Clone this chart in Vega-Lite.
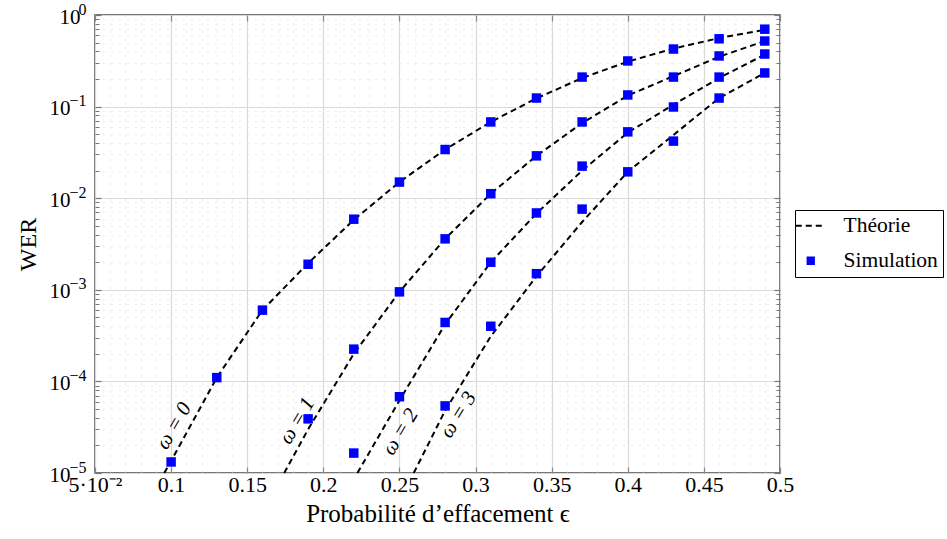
{
  "$schema": "https://vega.github.io/schema/vega-lite/v6.json",
  "autosize": "none",
  "width": 685,
  "height": 458,
  "padding": {"left": 95, "top": 15, "right": 167, "bottom": 66},
  "background": "white",
  "config": {
    "view": {"stroke": "#4a4a4a", "strokeWidth": 1.5},
    "font": "Liberation Serif",
    "legend": {
      "labelFont": "Liberation Serif",
      "labelFontSize": 21.5,
      "labelColor": "#000000",
      "strokeColor": "#000000",
      "fillColor": "white",
      "padding": 5,
      "symbolSize": 900,
      "rowPadding": 12,
      "labelOffset": 22,
      "symbolStrokeWidth": 2
    }
  },
  "datasets": {
    "theory": [
      {"omega": 0, "eps": 0.0955, "wer": 0.00001, "kind": "Théorie"},
      {"omega": 0, "eps": 0.10, "wer": 0.0000135, "kind": "Théorie"},
      {"omega": 0, "eps": 0.13, "wer": 0.00011, "kind": "Théorie"},
      {"omega": 0, "eps": 0.16, "wer": 0.0006, "kind": "Théorie"},
      {"omega": 0, "eps": 0.19, "wer": 0.00195, "kind": "Théorie"},
      {"omega": 0, "eps": 0.22, "wer": 0.0058, "kind": "Théorie"},
      {"omega": 0, "eps": 0.25, "wer": 0.015, "kind": "Théorie"},
      {"omega": 0, "eps": 0.28, "wer": 0.034, "kind": "Théorie"},
      {"omega": 0, "eps": 0.31, "wer": 0.068, "kind": "Théorie"},
      {"omega": 0, "eps": 0.34, "wer": 0.123, "kind": "Théorie"},
      {"omega": 0, "eps": 0.37, "wer": 0.205, "kind": "Théorie"},
      {"omega": 0, "eps": 0.40, "wer": 0.31, "kind": "Théorie"},
      {"omega": 0, "eps": 0.43, "wer": 0.43, "kind": "Théorie"},
      {"omega": 0, "eps": 0.46, "wer": 0.56, "kind": "Théorie"},
      {"omega": 0, "eps": 0.49, "wer": 0.69, "kind": "Théorie"},
      {"omega": 1, "eps": 0.1743, "wer": 0.00001, "kind": "Théorie"},
      {"omega": 1, "eps": 0.19, "wer": 0.00003, "kind": "Théorie"},
      {"omega": 1, "eps": 0.22, "wer": 0.0002, "kind": "Théorie"},
      {"omega": 1, "eps": 0.25, "wer": 0.00095, "kind": "Théorie"},
      {"omega": 1, "eps": 0.28, "wer": 0.0036, "kind": "Théorie"},
      {"omega": 1, "eps": 0.31, "wer": 0.0112, "kind": "Théorie"},
      {"omega": 1, "eps": 0.34, "wer": 0.029, "kind": "Théorie"},
      {"omega": 1, "eps": 0.37, "wer": 0.066, "kind": "Théorie"},
      {"omega": 1, "eps": 0.40, "wer": 0.132, "kind": "Théorie"},
      {"omega": 1, "eps": 0.43, "wer": 0.215, "kind": "Théorie"},
      {"omega": 1, "eps": 0.46, "wer": 0.35, "kind": "Théorie"},
      {"omega": 1, "eps": 0.49, "wer": 0.52, "kind": "Théorie"},
      {"omega": 2, "eps": 0.2224, "wer": 0.00001, "kind": "Théorie"},
      {"omega": 2, "eps": 0.25, "wer": 0.000062, "kind": "Théorie"},
      {"omega": 2, "eps": 0.28, "wer": 0.00042, "kind": "Théorie"},
      {"omega": 2, "eps": 0.31, "wer": 0.002, "kind": "Théorie"},
      {"omega": 2, "eps": 0.34, "wer": 0.0068, "kind": "Théorie"},
      {"omega": 2, "eps": 0.37, "wer": 0.02, "kind": "Théorie"},
      {"omega": 2, "eps": 0.40, "wer": 0.052, "kind": "Théorie"},
      {"omega": 2, "eps": 0.43, "wer": 0.105, "kind": "Théorie"},
      {"omega": 2, "eps": 0.46, "wer": 0.205, "kind": "Théorie"},
      {"omega": 2, "eps": 0.49, "wer": 0.37, "kind": "Théorie"},
      {"omega": 3, "eps": 0.2594, "wer": 0.00001, "kind": "Théorie"},
      {"omega": 3, "eps": 0.28, "wer": 0.000048, "kind": "Théorie"},
      {"omega": 3, "eps": 0.31, "wer": 0.00031, "kind": "Théorie"},
      {"omega": 3, "eps": 0.34, "wer": 0.0014, "kind": "Théorie"},
      {"omega": 3, "eps": 0.37, "wer": 0.0055, "kind": "Théorie"},
      {"omega": 3, "eps": 0.40, "wer": 0.0194, "kind": "Théorie"},
      {"omega": 3, "eps": 0.43, "wer": 0.049, "kind": "Théorie"},
      {"omega": 3, "eps": 0.46, "wer": 0.124, "kind": "Théorie"},
      {"omega": 3, "eps": 0.49, "wer": 0.233, "kind": "Théorie"}
    ],
    "sim": [
      {"omega": 0, "eps": 0.10, "wer": 0.0000132, "kind": "Simulation"},
      {"omega": 0, "eps": 0.13, "wer": 0.00011, "kind": "Simulation"},
      {"omega": 0, "eps": 0.16, "wer": 0.0006, "kind": "Simulation"},
      {"omega": 0, "eps": 0.19, "wer": 0.0019, "kind": "Simulation"},
      {"omega": 0, "eps": 0.22, "wer": 0.0059, "kind": "Simulation"},
      {"omega": 0, "eps": 0.25, "wer": 0.015, "kind": "Simulation"},
      {"omega": 0, "eps": 0.28, "wer": 0.034, "kind": "Simulation"},
      {"omega": 0, "eps": 0.31, "wer": 0.068, "kind": "Simulation"},
      {"omega": 0, "eps": 0.34, "wer": 0.124, "kind": "Simulation"},
      {"omega": 0, "eps": 0.37, "wer": 0.21, "kind": "Simulation"},
      {"omega": 0, "eps": 0.40, "wer": 0.315, "kind": "Simulation"},
      {"omega": 0, "eps": 0.43, "wer": 0.425, "kind": "Simulation"},
      {"omega": 0, "eps": 0.46, "wer": 0.55, "kind": "Simulation"},
      {"omega": 0, "eps": 0.49, "wer": 0.70, "kind": "Simulation"},
      {"omega": 1, "eps": 0.19, "wer": 0.000039, "kind": "Simulation"},
      {"omega": 1, "eps": 0.22, "wer": 0.000225, "kind": "Simulation"},
      {"omega": 1, "eps": 0.25, "wer": 0.00095, "kind": "Simulation"},
      {"omega": 1, "eps": 0.28, "wer": 0.0036, "kind": "Simulation"},
      {"omega": 1, "eps": 0.31, "wer": 0.0112, "kind": "Simulation"},
      {"omega": 1, "eps": 0.34, "wer": 0.029, "kind": "Simulation"},
      {"omega": 1, "eps": 0.37, "wer": 0.068, "kind": "Simulation"},
      {"omega": 1, "eps": 0.40, "wer": 0.134, "kind": "Simulation"},
      {"omega": 1, "eps": 0.43, "wer": 0.21, "kind": "Simulation"},
      {"omega": 1, "eps": 0.46, "wer": 0.357, "kind": "Simulation"},
      {"omega": 1, "eps": 0.49, "wer": 0.52, "kind": "Simulation"},
      {"omega": 2, "eps": 0.22, "wer": 0.0000165, "kind": "Simulation"},
      {"omega": 2, "eps": 0.25, "wer": 0.000068, "kind": "Simulation"},
      {"omega": 2, "eps": 0.28, "wer": 0.00044, "kind": "Simulation"},
      {"omega": 2, "eps": 0.31, "wer": 0.002, "kind": "Simulation"},
      {"omega": 2, "eps": 0.34, "wer": 0.0069, "kind": "Simulation"},
      {"omega": 2, "eps": 0.37, "wer": 0.0224, "kind": "Simulation"},
      {"omega": 2, "eps": 0.40, "wer": 0.053, "kind": "Simulation"},
      {"omega": 2, "eps": 0.43, "wer": 0.099, "kind": "Simulation"},
      {"omega": 2, "eps": 0.46, "wer": 0.21, "kind": "Simulation"},
      {"omega": 2, "eps": 0.49, "wer": 0.375, "kind": "Simulation"},
      {"omega": 3, "eps": 0.28, "wer": 0.000054, "kind": "Simulation"},
      {"omega": 3, "eps": 0.31, "wer": 0.0004, "kind": "Simulation"},
      {"omega": 3, "eps": 0.34, "wer": 0.0015, "kind": "Simulation"},
      {"omega": 3, "eps": 0.37, "wer": 0.0076, "kind": "Simulation"},
      {"omega": 3, "eps": 0.40, "wer": 0.0194, "kind": "Simulation"},
      {"omega": 3, "eps": 0.43, "wer": 0.042, "kind": "Simulation"},
      {"omega": 3, "eps": 0.46, "wer": 0.124, "kind": "Simulation"},
      {"omega": 3, "eps": 0.49, "wer": 0.233, "kind": "Simulation"}
    ],
    "labels": [
      {"omega": 0, "eps": 0.102, "wer": 0.0000326, "label": "ω = 0"},
      {"omega": 1, "eps": 0.1829, "wer": 0.000037, "label": "ω = 1"},
      {"omega": 2, "eps": 0.2507, "wer": 0.000028, "label": "ω = 2"},
      {"omega": 3, "eps": 0.2888, "wer": 0.000043, "label": "ω = 3"}
    ]
  },
  "layer": [
    {
      "data": {"name": "theory"},
      "mark": {"type": "line", "strokeDash": [6, 4], "strokeWidth": 2},
      "encoding": {
        "x": {
          "field": "eps", "type": "quantitative",
          "scale": {"domain": [0.05, 0.5], "nice": false, "zero": false},
          "axis": {
            "orient": "bottom",
            "values": [0.05, 0.1, 0.15, 0.2, 0.25, 0.3, 0.35, 0.4, 0.45, 0.5],
            "labelExpr": "datum.value < 0.07 ? '5·10⁻²' : format(datum.value, '.2~f')",
            "grid": true, "gridColor": "#d9d9d9", "gridWidth": 1.2,
            "ticks": true, "tickSize": -6, "tickColor": "#888888", "tickWidth": 1.2,
            "domain": false,
            "labelFont": "Liberation Serif", "labelFontSize": 22, "labelColor": "#000000",
            "labelPadding": 7, "labelFlush": false, "labelOverlap": false,
            "title": "Probabilité d’effacement ϵ",
            "titleFont": "Liberation Serif", "titleFontSize": 25, "titleFontWeight": "normal",
            "titleColor": "#000000", "titlePadding": 6
          }
        },
        "y": {
          "field": "wer", "type": "quantitative",
          "scale": {"type": "log", "domain": [0.00001, 1], "nice": false},
          "axis": {
            "orient": "left",
            "values": [0.00001, 0.0001, 0.001, 0.01, 0.1, 1],
            "labelExpr": "'10'",
            "grid": true, "gridColor": "#d9d9d9", "gridWidth": 1.2,
            "ticks": true, "tickSize": -6, "tickColor": "#777777", "tickWidth": 1.2,
            "domain": false,
            "labelFont": "Liberation Serif", "labelFontSize": 21, "labelColor": "#000000",
            "labelPadding": {"condition": {"test": "datum.value >= 0.9", "value": 21}, "value": 31},
            "labelOffset": 2,
            "labelFlush": false, "labelOverlap": false, "labelBaseline": "middle",
            "title": "WER",
            "titleFont": "Liberation Serif", "titleFontSize": 24, "titleFontWeight": "normal",
            "titleColor": "#000000", "titlePadding": 9
          }
        },
        "detail": {"field": "omega", "type": "nominal"},
        "color": {
          "field": "kind", "type": "nominal",
          "scale": {"domain": ["Théorie", "Simulation"], "range": ["#000000", "#0000ff"]},
          "legend": {
            "orient": "none", "legendX": 700, "legendY": 195, "title": null,
            "symbolSize": 900,
            "encode": {
              "symbols": {
                "update": {
                  "shape": {"signal": "datum.value === 'Théorie' ? 'stroke' : 'square'"},
                  "size": {"signal": "datum.value === 'Théorie' ? 900 : 40"},
                  "strokeDash": {"signal": "datum.value === 'Théorie' ? [6, 4] : [1, 0]"},
                  "stroke": {"signal": "datum.value === 'Théorie' ? '#000000' : 'transparent'"},
                  "fill": {"signal": "datum.value === 'Théorie' ? 'transparent' : '#0000ff'"},
                  "strokeWidth": {"value": 2},
                  "opacity": {"value": 1}
                }
              }
            }
          }
        }
      }
    },
    {
      "data": {"name": "sim"},
      "mark": {"type": "point", "shape": "square", "filled": true, "size": 90, "opacity": 1},
      "encoding": {
        "x": {
          "field": "eps", "type": "quantitative",
          "scale": {"domain": [0.05, 0.5], "nice": false, "zero": false},
          "axis": {
            "orient": "top",
            "values": [0.05, 0.1, 0.15, 0.2, 0.25, 0.3, 0.35, 0.4, 0.45, 0.5],
            "labels": false, "grid": false, "domain": false,
            "ticks": true, "tickSize": -6, "tickColor": "#888888", "tickWidth": 1.2,
            "title": null
          }
        },
        "y": {
          "field": "wer", "type": "quantitative",
          "scale": {"type": "log", "domain": [0.00001, 1], "nice": false},
          "axis": {
            "orient": "left",
            "values": [2e-5, 3e-5, 4e-5, 5e-5, 6e-5, 7e-5, 8e-5, 9e-5,
                       2e-4, 3e-4, 4e-4, 5e-4, 6e-4, 7e-4, 8e-4, 9e-4,
                       2e-3, 3e-3, 4e-3, 5e-3, 6e-3, 7e-3, 8e-3, 9e-3,
                       0.02, 0.03, 0.04, 0.05, 0.06, 0.07, 0.08, 0.09,
                       0.2, 0.3, 0.4, 0.5, 0.6, 0.7, 0.8, 0.9],
            "labels": false, "domain": false,
            "grid": true, "gridColor": "#d6d6d6", "gridDash": [1, 7], "gridWidth": 1,
            "ticks": true, "tickSize": -4, "tickColor": "#777777", "tickWidth": 1,
            "title": null
          }
        },
        "color": {
          "field": "kind", "type": "nominal",
          "scale": {"domain": ["Théorie", "Simulation"], "range": ["#000000", "#0000ff"]}
        }
      }
    },
    {
      "data": {"name": "sim"},
      "mark": {"type": "point", "opacity": 0},
      "encoding": {
        "x": {
          "field": "eps", "type": "quantitative",
          "scale": {"domain": [0.05, 0.5], "nice": false, "zero": false},
          "axis": {
            "orient": "bottom",
            "values": [0.06, 0.07, 0.08, 0.09, 0.11, 0.12, 0.13, 0.14, 0.16, 0.17, 0.18, 0.19,
                       0.21, 0.22, 0.23, 0.24, 0.26, 0.27, 0.28, 0.29, 0.31, 0.32, 0.33, 0.34,
                       0.36, 0.37, 0.38, 0.39, 0.41, 0.42, 0.43, 0.44, 0.46, 0.47, 0.48, 0.49],
            "labels": false, "ticks": false, "domain": false,
            "grid": true, "gridColor": "#d6d6d6", "gridDash": [1, 7], "gridWidth": 1,
            "title": null
          }
        },
        "y": {
          "field": "wer", "type": "quantitative",
          "scale": {"type": "log", "domain": [0.00001, 1], "nice": false},
          "axis": {
            "orient": "right",
            "values": [0.00001, 0.0001, 0.001, 0.01, 0.1, 1],
            "labels": false, "grid": false, "domain": false,
            "ticks": true, "tickSize": -6, "tickColor": "#777777", "tickWidth": 1.2,
            "title": null
          }
        }
      }
    },
    {
      "data": {"name": "sim"},
      "mark": {"type": "point", "opacity": 0},
      "encoding": {
        "x": {
          "field": "eps", "type": "quantitative",
          "scale": {"domain": [0.05, 0.5], "nice": false, "zero": false},
          "axis": null
        },
        "y": {
          "field": "wer", "type": "quantitative",
          "scale": {"type": "log", "domain": [0.00001, 1], "nice": false},
          "axis": {
            "orient": "right",
            "values": [2e-5, 3e-5, 4e-5, 5e-5, 6e-5, 7e-5, 8e-5, 9e-5,
                       2e-4, 3e-4, 4e-4, 5e-4, 6e-4, 7e-4, 8e-4, 9e-4,
                       2e-3, 3e-3, 4e-3, 5e-3, 6e-3, 7e-3, 8e-3, 9e-3,
                       0.02, 0.03, 0.04, 0.05, 0.06, 0.07, 0.08, 0.09,
                       0.2, 0.3, 0.4, 0.5, 0.6, 0.7, 0.8, 0.9],
            "labels": false, "grid": false, "domain": false,
            "ticks": true, "tickSize": -4, "tickColor": "#777777", "tickWidth": 1,
            "title": null
          }
        }
      }
    },
    {
      "data": {"name": "labels"},
      "mark": {"type": "text", "font": "Liberation Serif", "fontSize": 21, "fontStyle": "italic", "align": "center", "baseline": "middle", "color": "#000000"},
      "encoding": {
        "x": {
          "field": "eps", "type": "quantitative",
          "scale": {"domain": [0.05, 0.5], "nice": false, "zero": false},
          "axis": null
        },
        "y": {
          "field": "wer", "type": "quantitative",
          "scale": {"type": "log", "domain": [0.00001, 1], "nice": false},
          "axis": {
            "orient": "left",
            "values": [0.00001, 0.0001, 0.001, 0.01, 0.1, 1],
            "labelExpr": "datum.value >= 0.9 ? '0' : datum.value >= 0.09 ? '−1' : datum.value >= 0.009 ? '−2' : datum.value >= 0.0009 ? '−3' : datum.value >= 0.00009 ? '−4' : '−5'",
            "labels": true, "ticks": false, "grid": false, "domain": false,
            "labelFont": "Liberation Serif", "labelFontSize": 16, "labelColor": "#000000",
            "labelPadding": 9, "labelOffset": -6, "labelBaseline": "middle",
            "labelFlush": false, "labelOverlap": false,
            "title": null
          }
        },
        "text": {"field": "label", "type": "nominal"},
        "angle": {
          "field": "omega", "type": "ordinal",
          "scale": {"domain": [0, 1, 2, 3], "range": [300, 302, 294, 301]},
          "legend": null
        }
      }
    }
  ],
  "resolve": {"axis": {"x": "independent", "y": "independent"}}
}
